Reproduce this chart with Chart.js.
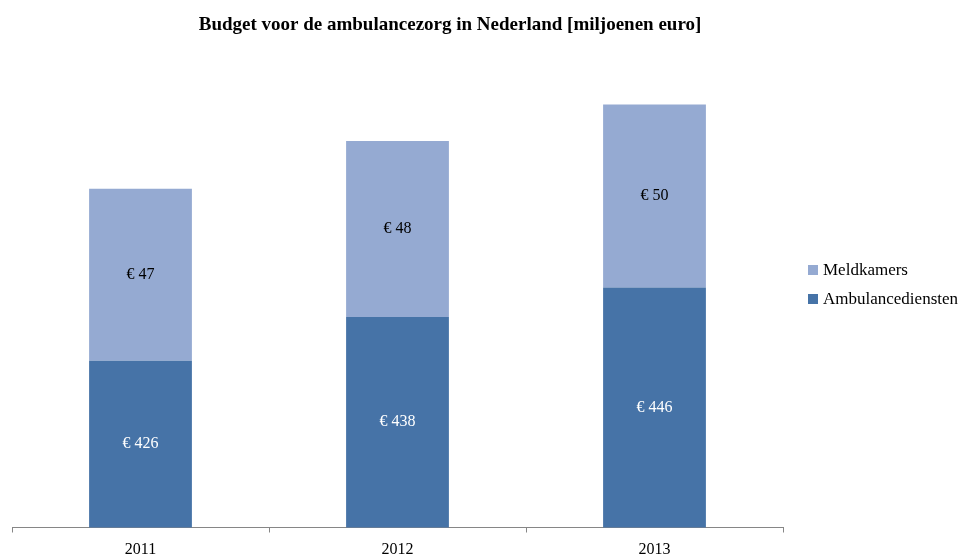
<!DOCTYPE html>
<html>
<head>
<meta charset="utf-8">
<script src="https://cdn.jsdelivr.net/npm/chart.js@4.4.1/dist/chart.umd.min.js"></script>
<style>
html,body{margin:0;padding:0;background:#fff;}
#wrap{width:959px;height:555px;position:relative;}
</style>
</head>
<body>
<div id="wrap"><canvas id="c" width="959" height="555"></canvas></div>
<script>
const categories = ['2011', '2012', '2013'];
const ambulancediensten = [426, 438, 446];
const meldkamers = [47, 48, 50];
const seriesNames = ['Ambulancediensten', 'Meldkamers'];
const titleText = 'Budget voor de ambulancezorg in Nederland [miljoenen euro]';
const axisMin = 380.5;
const axisMax = 500.5;

const SERIF = '"Liberation Serif", "Times New Roman", serif';

const valueLabels = {
  id: 'valueLabels',
  afterDatasetsDraw(chart) {
    const ctx = chart.ctx;
    const area = chart.chartArea;
    ctx.save();
    ctx.font = '16px ' + SERIF;
    ctx.textAlign = 'center';
    ctx.textBaseline = 'middle';
    chart.data.datasets.forEach((ds, di) => {
      const meta = chart.getDatasetMeta(di);
      meta.data.forEach((el, i) => {
        const top = Math.max(Math.min(el.y, el.base), area.top);
        const bot = Math.min(Math.max(el.y, el.base), area.bottom);
        ctx.fillStyle = ds.labelColor;
        ctx.fillText('€ ' + ds.data[i], el.x, (top + bot) / 2);
      });
    });
    ctx.restore();
  }
};

// Title and legend drawn from the chart's own data/labels
const titleAndLegend = {
  id: 'titleAndLegend',
  afterDraw(chart) {
    const ctx = chart.ctx;
    ctx.save();
    ctx.fillStyle = '#000';
    ctx.font = 'bold 19px ' + SERIF;
    ctx.textAlign = 'center';
    ctx.textBaseline = 'middle';
    ctx.fillText(titleText, 450, 25);

    const ds = chart.data.datasets.slice().reverse();
    const x0 = chart.chartArea.right + 25;
    let y = 271;
    ctx.font = '17px ' + SERIF;
    ctx.textAlign = 'left';
    ds.forEach(d => {
      ctx.fillStyle = d.backgroundColor;
      ctx.fillRect(x0, y - 6, 10, 10);
      ctx.fillStyle = '#000';
      ctx.fillText(d.label, x0 + 15, y);
      y += 29;
    });
    ctx.restore();
  }
};

new Chart(document.getElementById('c'), {
  type: 'bar',
  data: {
    labels: categories,
    datasets: [
      { label: seriesNames[0], data: ambulancediensten, backgroundColor: '#4673A7', labelColor: '#ffffff' },
      { label: seriesNames[1], data: meldkamers, backgroundColor: '#95AAD2', labelColor: '#000000' }
    ]
  },
  options: {
    responsive: false,
    animation: false,
    events: [],
    categoryPercentage: 1.0,
    barPercentage: 0.4,
    layout: { padding: { left: 12, right: 176, top: 88, bottom: 0 } },
    scales: {
      x: {
        stacked: true,
        afterFit(scale) { scale.height = 27.5; },
        grid: { display: true, drawOnChartArea: false, drawTicks: true, tickLength: 5, color: '#868686', lineWidth: 1 },
        border: { display: true, color: '#868686', width: 1 },
        ticks: { color: '#000', font: { family: SERIF, size: 16 }, padding: 8 }
      },
      y: {
        stacked: true,
        display: false,
        min: axisMin,
        max: axisMax
      }
    },
    plugins: {
      title: { display: false },
      legend: { display: false },
      tooltip: { enabled: false }
    }
  },
  plugins: [valueLabels, titleAndLegend]
});
</script>
</body>
</html>
